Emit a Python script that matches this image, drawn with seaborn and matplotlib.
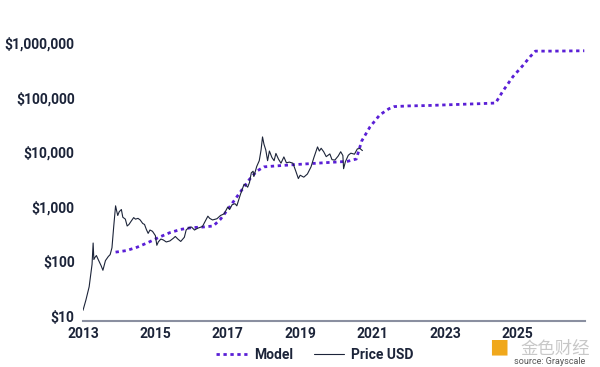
import numpy as np
import pandas as pd
import matplotlib
matplotlib.use("Agg")
import matplotlib.pyplot as plt
import seaborn as sns
from matplotlib.ticker import FixedLocator, FixedFormatter

sns.set_style("white")
plt.rcParams['font.family'] = ['Roboto', 'Noto Sans CJK SC', 'DejaVu Sans']

# Price USD (decimal year, price)
price_year = [2013.00, 2013.08, 2013.17, 2013.25, 2013.28, 2013.30, 2013.33, 2013.37, 2013.42,
              2013.50, 2013.55, 2013.62, 2013.70, 2013.75, 2013.80, 2013.85, 2013.90, 2013.93,
              2013.96, 2014.00, 2014.06, 2014.10, 2014.17, 2014.22, 2014.27, 2014.33, 2014.40,
              2014.45, 2014.52, 2014.58, 2014.65, 2014.70, 2014.75, 2014.80, 2014.85, 2014.92,
              2015.00, 2015.04, 2015.08, 2015.15, 2015.22, 2015.30, 2015.40, 2015.50, 2015.55,
              2015.62, 2015.70, 2015.80, 2015.85, 2015.92, 2016.00, 2016.08, 2016.17, 2016.30,
              2016.45, 2016.50, 2016.58, 2016.70, 2016.80, 2016.90, 2017.00, 2017.05, 2017.12,
              2017.20, 2017.25, 2017.35, 2017.45, 2017.50, 2017.55, 2017.60, 2017.65, 2017.70,
              2017.72, 2017.80, 2017.87, 2017.92, 2017.96, 2018.00, 2018.05, 2018.10, 2018.15,
              2018.22, 2018.28, 2018.33, 2018.40, 2018.47, 2018.55, 2018.62, 2018.70, 2018.80,
              2018.88, 2018.95, 2019.00, 2019.10, 2019.20, 2019.30, 2019.38, 2019.48, 2019.53,
              2019.58, 2019.65, 2019.72, 2019.82, 2019.88, 2019.96, 2020.05, 2020.12, 2020.18,
              2020.20, 2020.25, 2020.33, 2020.40, 2020.50, 2020.58, 2020.65, 2020.72]
price_usd = [13, 20, 35, 90, 220, 110, 120, 130, 110,
             85, 70, 105, 125, 135, 180, 450, 1050, 850,
             700, 820, 900, 650, 600, 450, 480, 550, 640,
             600, 620, 580, 500, 480, 390, 330, 380, 360,
             300, 200, 230, 260, 250, 230, 240, 270, 290,
             260, 235, 280, 380, 420, 430, 380, 410, 440,
             680, 620, 580, 610, 700, 750, 1000, 900, 1100,
             1150, 1050, 1700, 2600, 2500, 2300, 2800, 4200, 4500,
             3600, 5500, 7000, 11000, 19000, 14000, 11000, 7000, 10500,
             8000, 7000, 9500, 7500, 6300, 8200, 6400, 6600, 6300,
             4500, 3300, 3800, 3500, 4000, 5400, 8000, 12500, 10500,
             11800, 10200, 8300, 9300, 7300, 7200, 8500, 10200, 8700,
             5000, 6700, 8800, 9600, 9200, 11500, 11700, 10700]

# Stock-to-flow model
model_year = [2013.90, 2014.2, 2014.5, 2014.8, 2015.1, 2015.4, 2015.7, 2016.0, 2016.3,
              2016.6, 2016.8, 2017.0, 2017.3, 2017.6, 2017.8, 2018.0, 2018.3, 2018.8,
              2019.3, 2019.8, 2020.3, 2020.55, 2020.7, 2020.93, 2021.2, 2021.45, 2021.6,
              2022.0, 2022.5, 2023.0, 2023.5, 2024.0, 2024.4, 2024.6, 2024.88, 2025.15,
              2025.35, 2025.5, 2026.0, 2026.85]
model_value = [150, 160, 185, 225, 280, 340, 390, 420, 430,
               450, 600, 900, 1700, 3200, 4500, 5400, 5600, 5900,
               6200, 6500, 6800, 7500, 16000, 29000, 48000, 62000, 68000,
               70000, 71000, 73000, 75000, 77000, 79000, 130000, 240000, 380000,
               550000, 700000, 700000, 710000]

y_ticks = [10, 100, 1000, 10000, 100000, 1000000]
y_labels = ["$10", "$100", "$1,000", "$10,000", "$100,000", "$1,000,000"]
x_ticks = [2013, 2015, 2017, 2019, 2021, 2023, 2025]

price_df = pd.DataFrame({"year": price_year, "value": price_usd})
model_df = pd.DataFrame({"year": model_year, "value": model_value})

purple = "#5a1fd6"
navy = "#1c2439"

fig = plt.figure(figsize=(6, 3.67), dpi=100)
ax = fig.add_axes([83 / 600, 46 / 367, 502 / 600, 291 / 367])

sns.lineplot(data=model_df, x="year", y="value", ax=ax, color=purple, lw=2,
             linestyle=(0, (1.2, 1.3)), label="Model")
sns.lineplot(data=price_df, x="year", y="value", ax=ax, color=navy, lw=0.8,
             label="Price USD")

ax.set_yscale("log")
ax.set_ylim(8.3, 1.7e6)
ax.set_xlim(2013, 2026.87)
ax.yaxis.set_major_locator(FixedLocator(y_ticks))
ax.yaxis.set_major_formatter(FixedFormatter(y_labels))
ax.yaxis.set_minor_locator(FixedLocator([]))
ax.set_xticks(x_ticks)
ax.set_xticklabels([str(x) for x in x_ticks])
ax.set_xlabel("")
ax.set_ylabel("")
ax.tick_params(axis="both", length=0, labelsize=10, labelcolor=navy, pad=6)
ax.tick_params(axis="x", pad=4)
for lbl in ax.get_xticklabels() + ax.get_yticklabels():
    lbl.set_fontweight("bold")

for s in ["top", "right", "left"]:
    ax.spines[s].set_visible(False)
ax.spines["bottom"].set_color("#8a8fa0")
ax.spines["bottom"].set_linewidth(1.5)

leg = ax.legend(loc="center", bbox_to_anchor=(315 / 600, 12 / 367), bbox_transform=fig.transFigure,
                ncol=2, frameon=False, handlelength=2.2, columnspacing=1.5, handletextpad=0.5,
                prop={"weight": "bold", "size": 10})
for t in leg.get_texts():
    t.set_color(navy)

# watermark / source
fig.text(555 / 600, 18 / 367, "金色财经", fontsize=12.5, color="#c8c8c8", ha="center", va="center",
         family=["Noto Sans CJK SC", "DejaVu Sans"])
fig.text(499 / 600, 18 / 367, "■", fontsize=14, color="#f0a81c", ha="center", va="center")
fig.text(550 / 600, 0.5 / 367, "source: Grayscale", fontsize=6.5, color="#555555", ha="center", va="bottom")

fig.savefig("out.png", dpi=100)
